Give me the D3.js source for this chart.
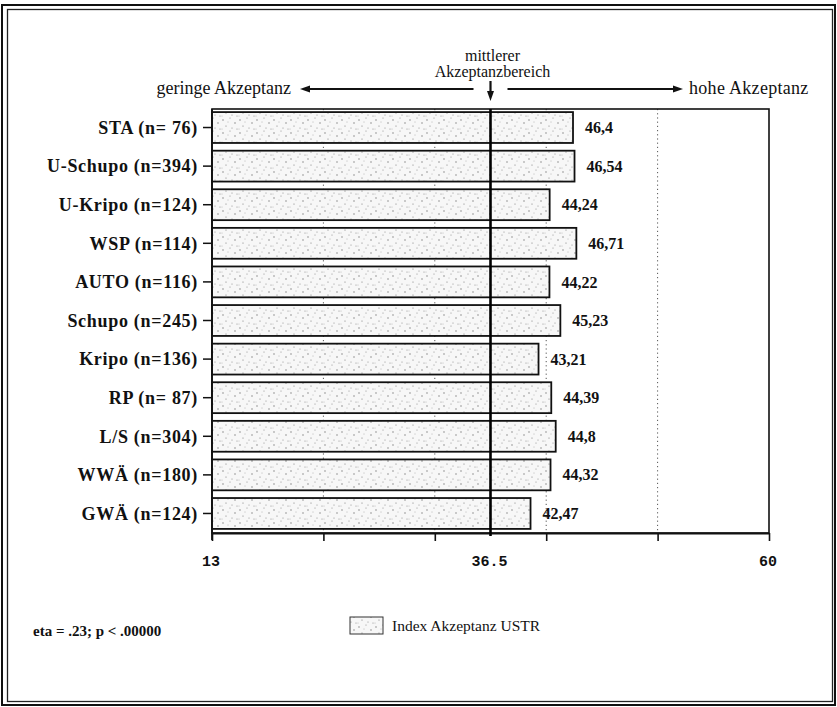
<!DOCTYPE html>
<html lang="de">
<head>
<meta charset="utf-8">
<title>Index Akzeptanz USTR</title>
<script src="https://cdn.jsdelivr.net/npm/d3@7/dist/d3.min.js"></script>
<style>
  html, body { margin: 0; padding: 0; background: #fff; }
  svg { display: block; }
  text { white-space: pre; }
</style>
</head>
<body>
<svg id="chart" width="837" height="707"></svg>
<script>
// Dienststellen / Gruppen und Stichprobengrößen
const groups = ["STA", "U-Schupo", "U-Kripo", "WSP", "AUTO", "Schupo", "Kripo", "RP", "L/S", "WWÄ", "GWÄ"];
const counts = [76, 394, 124, 114, 116, 245, 136, 87, 304, 180, 124];
// Mittelwerte Index Akzeptanz USTR
const values = [46.4, 46.54, 44.24, 46.71, 44.22, 45.23, 43.21, 44.39, 44.8, 44.32, 42.47];
// Achse
const axisTicks = [13, 22.4, 31.8, 41.2, 50.6, 60];
const axisLabelValues = [13, 36.5, 60];
const axisLabels = ["13", "36.5", "60"];
const midValue = 36.5;
const legendLabel = "Index Akzeptanz USTR";
const statsNote = "eta = .23; p < .00000";

const categories = groups.map((g, i) => `${g} (n=${String(counts[i]).padStart(3, " ")})`);

const svg = d3.select("#chart");
const serif = "'Liberation Serif', 'Times New Roman', serif";
const mono = "'Liberation Mono', 'Courier New', monospace";

const plot = { left: 212, right: 769, top: 109, bottom: 533 };

// Achsenskala (Rahmen, Teilstriche, Beschriftung)
const axisX = d3.scaleLinear().domain([13, 60]).range([plot.left, plot.right]);
// Balkenskala
const barX = d3.scaleLinear().domain([13, 60]).range([plot.left, 720]);
const y = d3.scaleBand().domain(categories).range([plot.top, plot.bottom - 1])
  .paddingInner(0.2).paddingOuter(0.08);

// Gepunktete Füllung der Balken
const defs = svg.append("defs");
const pat = defs.append("pattern").attr("id", "stipple")
  .attr("patternUnits", "userSpaceOnUse").attr("width", 17).attr("height", 13);
pat.append("rect").attr("width", 17).attr("height", 13).attr("fill", "#f7f7f7");
const specks = [[2, 3, 0.7], [9, 1, 0.5], [14, 6, 0.7], [5, 9, 0.6], [11, 11, 0.5], [7, 5, 0.45], [16, 12, 0.5], [1, 12, 0.4]];
pat.selectAll("circle").data(specks).join("circle")
  .attr("cx", d => d[0]).attr("cy", d => d[1]).attr("r", d => d[2]).attr("fill", "#777");

// Doppelter Außenrahmen
svg.append("rect").attr("x", 2).attr("y", 5).attr("width", 833).attr("height", 700)
  .attr("fill", "none").attr("stroke", "#111").attr("stroke-width", 2);
svg.append("rect").attr("x", 7.5).attr("y", 9.5).attr("width", 825).attr("height", 692)
  .attr("fill", "none").attr("stroke", "#222").attr("stroke-width", 1.3);

// Hilfslinien
svg.append("g").selectAll("line").data(axisTicks.slice(1, -1)).join("line")
  .attr("x1", d => axisX(d)).attr("x2", d => axisX(d))
  .attr("y1", plot.top).attr("y2", plot.bottom)
  .attr("stroke", "#555").attr("stroke-width", 1).attr("stroke-dasharray", "1.2,3");

// Plotrahmen
svg.append("rect").attr("x", plot.left).attr("y", plot.top)
  .attr("width", plot.right - plot.left).attr("height", plot.bottom - plot.top)
  .attr("fill", "none").attr("stroke", "#111").attr("stroke-width", 1.6);

// Balken
svg.append("g").selectAll("rect").data(values).join("rect")
  .attr("x", barX(13))
  .attr("y", (d, i) => y(categories[i]))
  .attr("width", d => barX(d) - barX(13))
  .attr("height", y.bandwidth())
  .attr("fill", "url(#stipple)")
  .attr("stroke", "#111").attr("stroke-width", 1.8);

// Wertbeschriftung
svg.append("g").selectAll("text").data(values).join("text")
  .attr("x", d => barX(d) + 12)
  .attr("y", (d, i) => y(categories[i]) + y.bandwidth() / 2)
  .attr("dy", "0.35em")
  .attr("font-family", serif).attr("font-weight", "bold").attr("font-size", 16)
  .attr("fill", "#111")
  .text(d => String(d).replace(".", ","));

// Linke Achse
const yAxis = svg.append("g").attr("transform", `translate(${plot.left},0)`)
  .call(d3.axisLeft(y).tickSize(9).tickSizeOuter(0).tickFormat(""));
yAxis.select(".domain").remove();
yAxis.selectAll(".tick line").attr("stroke", "#111").attr("stroke-width", 1.5);
svg.append("line").attr("x1", plot.left).attr("x2", plot.left)
  .attr("y1", plot.top).attr("y2", plot.bottom + 7)
  .attr("stroke", "#111").attr("stroke-width", 1.8);

svg.append("g").selectAll("text").data(categories).join("text")
  .attr("x", 198)
  .attr("y", d => y(d) + y.bandwidth() / 2)
  .attr("dy", "0.35em")
  .attr("text-anchor", "end")
  .attr("font-family", serif).attr("font-weight", "bold").attr("font-size", 18)
  .attr("letter-spacing", 0.7)
  .attr("fill", "#111")
  .text(d => d);

// Untere Achse
const xAxis = svg.append("g").attr("transform", `translate(0,${plot.bottom})`)
  .call(d3.axisBottom(axisX).tickValues(axisTicks).tickSize(8).tickSizeOuter(0).tickFormat(""));
xAxis.select(".domain").attr("stroke", "#111").attr("stroke-width", 1.8);
xAxis.selectAll(".tick line").attr("stroke", "#111").attr("stroke-width", 1.6);

svg.append("g").selectAll("text").data(axisLabelValues).join("text")
  .attr("x", d => axisX(d) - 1)
  .attr("y", 566)
  .attr("text-anchor", "middle")
  .attr("font-family", mono).attr("font-weight", "bold").attr("font-size", 15)
  .attr("fill", "#111")
  .text((d, i) => axisLabels[i]);

// Mittlerer Akzeptanzbereich
const midX = axisX(midValue);
svg.append("line").attr("x1", midX).attr("x2", midX)
  .attr("y1", plot.top).attr("y2", plot.bottom + 3)
  .attr("stroke", "#000").attr("stroke-width", 2.6);

const ann = svg.append("g").attr("fill", "#111").attr("font-family", serif);
ann.append("text").attr("x", midX + 2).attr("y", 61).attr("text-anchor", "middle")
  .attr("font-size", 16).text("mittlerer");
ann.append("text").attr("x", midX + 2).attr("y", 77).attr("text-anchor", "middle")
  .attr("font-size", 16).text("Akzeptanzbereich");
ann.append("text").attr("x", 291).attr("y", 94).attr("text-anchor", "end")
  .attr("font-size", 18).text("geringe Akzeptanz");
ann.append("text").attr("x", 689).attr("y", 94)
  .attr("font-size", 18).attr("letter-spacing", 0.3).text("hohe Akzeptanz");

const arrowY = 89;
const arrows = svg.append("g").attr("stroke", "#111").attr("fill", "#111");
// nach links
arrows.append("line").attr("x1", midX - 17).attr("x2", 308).attr("y1", arrowY).attr("y2", arrowY).attr("stroke-width", 2.2);
arrows.append("path").attr("d", `M300,${arrowY} L310,${arrowY - 3.5} L310,${arrowY + 3.5} Z`).attr("stroke", "none");
// nach rechts
arrows.append("line").attr("x1", midX + 17).attr("x2", 675).attr("y1", arrowY).attr("y2", arrowY).attr("stroke-width", 2.2);
arrows.append("path").attr("d", `M683,${arrowY} L673,${arrowY - 3.5} L673,${arrowY + 3.5} Z`).attr("stroke", "none");
// nach unten
arrows.append("line").attr("x1", midX).attr("x2", midX).attr("y1", 81).attr("y2", 93).attr("stroke-width", 2.2);
arrows.append("path").attr("d", `M${midX},101 L${midX - 3.5},91 L${midX + 3.5},91 Z`).attr("stroke", "none");

// Legende
svg.append("rect").attr("x", 350).attr("y", 617).attr("width", 33).attr("height", 17)
  .attr("fill", "url(#stipple)").attr("stroke", "#333").attr("stroke-width", 1);
svg.append("text").attr("x", 392).attr("y", 631)
  .attr("font-family", serif).attr("font-size", 15.5).attr("fill", "#111")
  .text(legendLabel);

// Kennwerte
svg.append("text").attr("x", 33).attr("y", 636)
  .attr("font-family", serif).attr("font-weight", "bold").attr("font-size", 15).attr("fill", "#111")
  .text(statsNote);
</script>
</body>
</html>
